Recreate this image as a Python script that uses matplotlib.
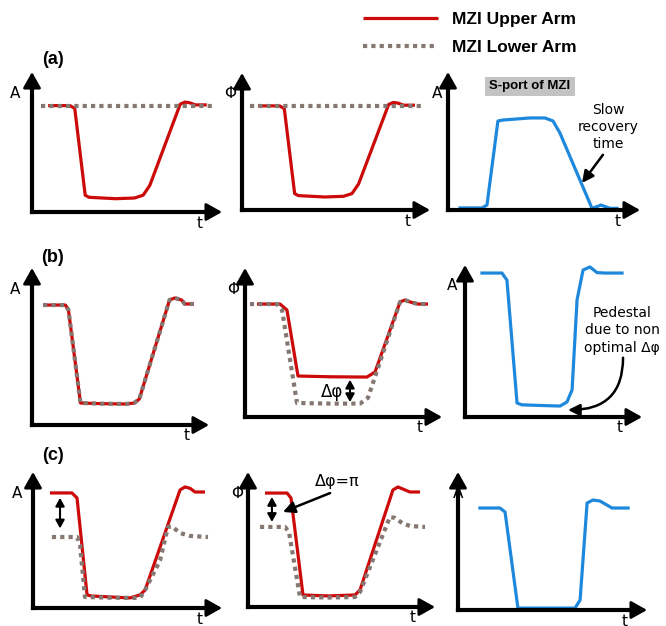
import matplotlib.pyplot as plt

RED = '#cc0a0a'
GRAY = '#857772'
BLUE = '#1e88dc'

# ---- curve data (t from 0..10 along the time axis, y from 0..1 up the vertical axis) ----
# row (a): upper arm dips, lower arm stays flat
a_upper_t = [0.85, 2.0, 2.25, 2.8, 3.0, 4.4, 5.4, 5.85, 6.2, 7.8, 8.05, 8.3, 8.6, 9.2]
a_upper_y = [0.76, 0.76, 0.74, 0.12, 0.105, 0.095, 0.1, 0.12, 0.19, 0.77, 0.785, 0.78, 0.765, 0.765]
a_lower_t = [0.45, 9.65]
a_lower_y = [0.76, 0.76]
a_sport_t = [0.63, 1.77, 2.03, 2.6, 2.86, 4.27, 5.05, 5.47, 5.83, 7.5, 7.76, 7.97, 8.18, 8.44, 8.8]
a_sport_y = [0.015, 0.015, 0.036, 0.645, 0.652, 0.667, 0.667, 0.645, 0.558, 0.012, 0.025, 0.036, 0.025, 0.012, 0.012]

# row (b): both arms same amplitude, phases differ by non optimal delta phi
b_amp_t = [0.63, 1.89, 2.06, 2.74, 3.9, 5.3, 5.77, 6.06, 7.77, 8.06, 8.46, 8.63, 9.14]
b_amp_y = [0.764, 0.764, 0.732, 0.14, 0.136, 0.134, 0.14, 0.165, 0.796, 0.809, 0.796, 0.771, 0.771]
b_phi_upper_t = [0.61, 1.78, 2.13, 2.69, 4.3, 6.19, 6.6, 7.87, 8.12, 8.38, 8.78, 9.29]
b_phi_upper_y = [0.758, 0.758, 0.718, 0.275, 0.27, 0.268, 0.302, 0.772, 0.785, 0.772, 0.758, 0.758]
b_phi_lower_t = [0.25, 1.62, 1.88, 2.64, 4.3, 5.84, 6.24, 7.87, 8.12, 8.38, 8.78, 9.29]
b_phi_lower_y = [0.758, 0.758, 0.718, 0.094, 0.09, 0.09, 0.128, 0.772, 0.785, 0.772, 0.758, 0.758]
b_sport_t = [0.96, 2.09, 2.37, 2.94, 3.22, 4.24, 5.37, 5.76, 6.05, 6.33, 6.67, 7.06, 7.46, 7.91, 8.87]
b_sport_y = [0.947, 0.947, 0.9, 0.092, 0.08, 0.076, 0.072, 0.099, 0.178, 0.77, 0.967, 0.987, 0.95, 0.947, 0.947]

# row (c): offset of pi between arms
c_amp_upper_t = [0.9, 2.06, 2.33, 2.86, 3.12, 5.13, 5.66, 5.93, 7.78, 8.04, 8.31, 8.57, 9.1]
c_amp_upper_y = [0.846, 0.846, 0.809, 0.096, 0.088, 0.074, 0.096, 0.132, 0.868, 0.89, 0.88, 0.853, 0.853]
c_amp_lower_t = [1.0, 2.33, 2.49, 2.75, 4.0, 5.66, 5.93, 6.72, 7.14, 7.35, 7.78, 8.31, 9.26]
c_amp_lower_y = [0.522, 0.522, 0.463, 0.081, 0.076, 0.074, 0.132, 0.35, 0.596, 0.6, 0.551, 0.53, 0.522]
c_phi_upper_t = [0.91, 2.09, 2.3, 2.94, 4.3, 5.72, 5.99, 7.75, 8.02, 8.4, 8.66, 9.2]
c_phi_upper_y = [0.844, 0.844, 0.807, 0.089, 0.082, 0.089, 0.126, 0.867, 0.889, 0.867, 0.852, 0.852]
c_phi_lower_t = [0.64, 1.98, 2.19, 2.78, 4.3, 5.72, 5.99, 7.59, 7.86, 8.24, 8.66, 9.47]
c_phi_lower_y = [0.593, 0.593, 0.556, 0.074, 0.07, 0.074, 0.111, 0.667, 0.66, 0.622, 0.6, 0.593]
c_sport_t = [1.16, 2.22, 2.49, 3.17, 6.19, 6.46, 6.83, 7.14, 7.51, 8.15, 9.0]
c_sport_y = [0.739, 0.739, 0.71, 0.014, 0.014, 0.072, 0.775, 0.797, 0.79, 0.739, 0.739]

# panel boxes in pixels: (y-axis x, x-arrow tip, x-axis y, y-arrow tip), y-label
panels = [
    ((32, 222, 212, 72), 'A'), ((242, 430, 210, 73), 'Φ'), ((448, 640, 210, 72), 'A'),
    ((32, 209, 425, 268), 'A'), ((245, 442, 417, 268), 'Φ'), ((465, 642, 417, 265), 'A'),
    ((33, 222, 608, 472), 'A'), ((248, 435, 607, 472), 'Φ'), ((458, 647, 610, 472), 'A'),
]
ylab_dx = [-17, -12, -11, -17, -12, -13, -16, -11, 0]

W, H = 666, 626
fig = plt.figure(figsize=(W / 100, H / 100), dpi=100)

axes = []
for (box, ylab), dx in zip(panels, ylab_dx):
    x0, x1, y0, y1 = box
    ax = fig.add_axes([x0 / W, (H - y0) / H, (x1 - x0) / W, (y0 - y1) / H])
    ax.set_xlim(0, 10)
    ax.set_ylim(0, 1)
    ax.axis('off')
    # axis lines with arrow heads
    ax.plot([0, 0.95], [0, 0], transform=ax.transAxes, color='black', lw=3,
            solid_capstyle='projecting', clip_on=False, zorder=5)
    ax.plot([0, 0], [0, 0.95], transform=ax.transAxes, color='black', lw=3,
            solid_capstyle='projecting', clip_on=False, zorder=5)
    head = dict(arrowstyle='-|>,head_length=0.8,head_width=0.45', lw=2, color='black',
                shrinkA=0, shrinkB=0, mutation_scale=12)
    ax.annotate('', xy=(1, 0), xytext=(0.9, 0), xycoords='axes fraction', arrowprops=head, zorder=5)
    ax.annotate('', xy=(0, 1), xytext=(0, 0.9), xycoords='axes fraction', arrowprops=head, zorder=5)
    ax.annotate(ylab, xy=(0, 1), xycoords='axes fraction', xytext=(dx * 0.72, -21 * 0.72),
                textcoords='offset points', ha='center', va='center', fontsize=11, zorder=1)
    ax.annotate('t', xy=(1, 0), xycoords='axes fraction', xytext=(-22 * 0.72, -11 * 0.72),
                textcoords='offset points', ha='center', va='center', fontsize=11)
    axes.append(ax)

red_kw = dict(color=RED, lw=2.3, clip_on=False, solid_joinstyle='round', solid_capstyle='butt')
gray_kw = dict(color=GRAY, lw=3, ls=(0, (1, 1)), clip_on=False)
blue_kw = dict(color=BLUE, lw=2.3, clip_on=False, solid_joinstyle='round')

# row (a)
upper_line, = axes[0].plot(a_upper_t, a_upper_y, **red_kw)
lower_line, = axes[0].plot(a_lower_t, a_lower_y, **gray_kw)
axes[1].plot(a_upper_t, a_upper_y, **red_kw)
axes[1].plot(a_lower_t, a_lower_y, **gray_kw)
axes[2].plot(a_sport_t, a_sport_y, **blue_kw)
axes[2].text(4.27, 0.895, 'S-port of MZI', ha='center', va='center', fontsize=9.5,
             family='Liberation Sans', weight='bold',
             bbox=dict(facecolor='#c3c3c3', edgecolor='none', boxstyle='square,pad=0.3'))
axes[2].text(8.33, 0.6, 'Slow\nrecovery\ntime', ha='center', va='center', fontsize=10, linespacing=1.3)
axes[2].annotate('', xy=(6.98, 0.196), xytext=(8.07, 0.4),
                 arrowprops=dict(arrowstyle='-|>,head_length=0.5,head_width=0.25', lw=1.8,
                                 color='black', mutation_scale=14, shrinkA=0, shrinkB=0))

# row (b)
axes[3].plot(b_amp_t, b_amp_y, **red_kw)
axes[3].plot(b_amp_t, b_amp_y, **gray_kw)
axes[4].plot(b_phi_upper_t, b_phi_upper_y, **red_kw)
axes[4].plot(b_phi_lower_t, b_phi_lower_y, **gray_kw)
axes[4].text(4.42, 0.168, 'Δφ', ha='center', va='center', fontsize=12)
axes[4].annotate('', xy=(5.33, 0.1), xytext=(5.33, 0.25),
                 arrowprops=dict(arrowstyle='<|-|>,head_length=0.4,head_width=0.22', lw=1.5,
                                 color='black', mutation_scale=12, shrinkA=0, shrinkB=0))
axes[5].plot(b_sport_t, b_sport_y, **blue_kw)
axes[5].text(8.87, 0.57, 'Pedestal\ndue to non\noptimal Δφ', ha='center', va='center',
             fontsize=10, linespacing=1.3)
axes[5].annotate('', xy=(5.82, 0.046), xytext=(8.93, 0.39),
                 arrowprops=dict(arrowstyle='-|>,head_length=0.5,head_width=0.25', lw=1.8,
                                 color='black', mutation_scale=14, shrinkA=0, shrinkB=0,
                                 connectionstyle='angle3,angleA=90,angleB=0'))

# row (c)
axes[6].plot(c_amp_upper_t, c_amp_upper_y, **red_kw)
axes[6].plot(c_amp_lower_t, c_amp_lower_y, **gray_kw)
axes[6].annotate('', xy=(1.43, 0.585), xytext=(1.43, 0.81),
                 arrowprops=dict(arrowstyle='<|-|>,head_length=0.4,head_width=0.22', lw=1.5,
                                 color='black', mutation_scale=12, shrinkA=0, shrinkB=0))
axes[7].plot(c_phi_upper_t, c_phi_upper_y, **red_kw)
axes[7].plot(c_phi_lower_t, c_phi_lower_y, **gray_kw)
axes[7].annotate('', xy=(1.28, 0.63), xytext=(1.28, 0.815),
                 arrowprops=dict(arrowstyle='<|-|>,head_length=0.4,head_width=0.22', lw=1.5,
                                 color='black', mutation_scale=12, shrinkA=0, shrinkB=0))
axes[7].text(4.76, 0.93, 'Δφ=π', ha='center', va='center', fontsize=11.5)
axes[7].annotate('', xy=(1.87, 0.704), xytext=(4.39, 0.844),
                 arrowprops=dict(arrowstyle='-|>,head_length=0.5,head_width=0.25', lw=1.8,
                                 color='black', mutation_scale=14, shrinkA=0, shrinkB=0))
axes[8].plot(c_sport_t, c_sport_y, **blue_kw)

# row labels
for lab, ypx in [('(a)', 60), ('(b)', 258), ('(c)', 456)]:
    fig.text(53 / W, 1 - ypx / H, lab, ha='center', va='center', fontsize=13,
             family='Liberation Sans', weight='bold')

fig.legend(handles=[upper_line, lower_line], labels=['MZI Upper Arm', 'MZI Lower Arm'],
           loc='upper left', bbox_to_anchor=(363 / W, 1 - 12 / H), frameon=False,
           borderpad=0, borderaxespad=0, handlelength=4.3, handletextpad=0.85, labelspacing=0.75,
           prop=dict(family='Liberation Sans', weight='bold', size=12.5))

fig.savefig('out.png', dpi=100)
